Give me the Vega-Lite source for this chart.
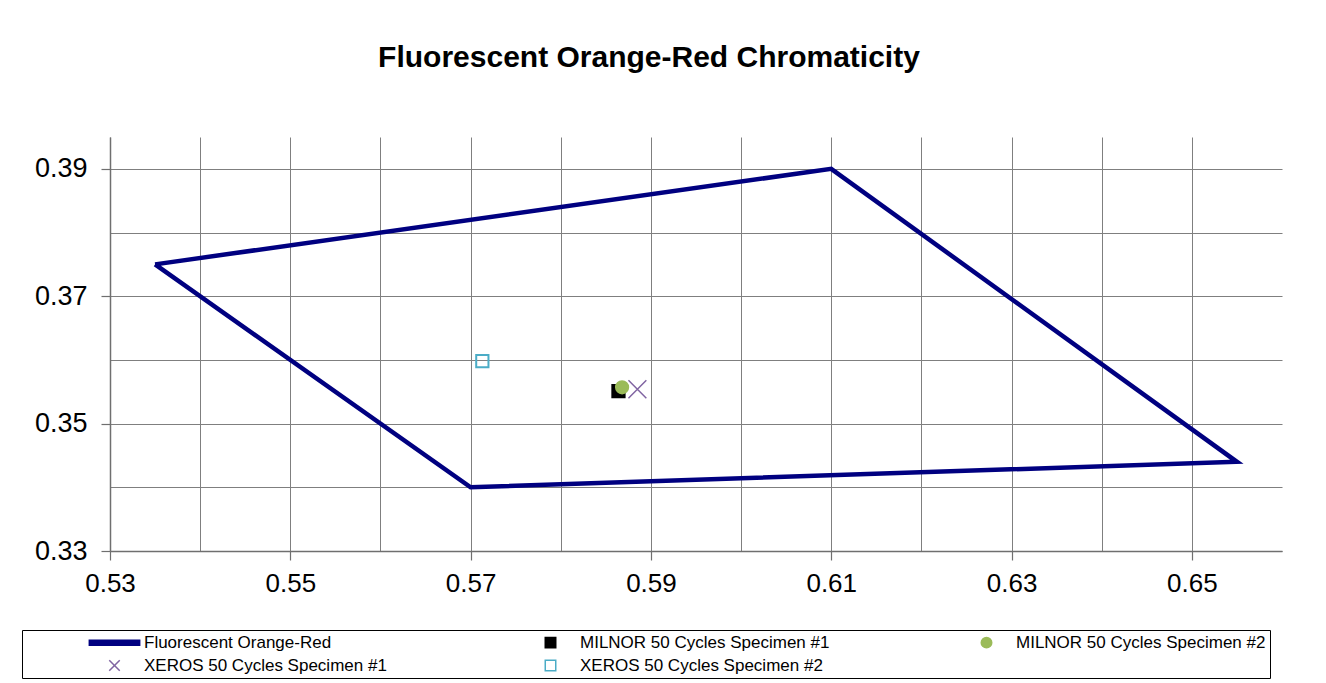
{
  "$schema": "https://vega.github.io/schema/vega-lite/v6.json",
  "autosize": {"type": "none"},
  "width": 1172,
  "height": 414,
  "padding": {"left": 110, "top": 137, "right": 44, "bottom": 132},
  "background": "white",
  "config": {
    "view": {"stroke": null},
    "font": "Liberation Sans"
  },
  "title": {
    "text": "Fluorescent Orange-Red Chromaticity",
    "font": "Liberation Sans",
    "fontSize": 30,
    "fontWeight": "bold",
    "color": "#000000",
    "anchor": "middle",
    "dx": -47,
    "offset": 64
  },
  "datasets": {
    "boundary": [
      {"x": 0.535, "y": 0.375, "order": 1, "series": "Fluorescent Orange-Red"},
      {"x": 0.61, "y": 0.39, "order": 2, "series": "Fluorescent Orange-Red"},
      {"x": 0.655, "y": 0.344, "order": 3, "series": "Fluorescent Orange-Red"},
      {"x": 0.57, "y": 0.34, "order": 4, "series": "Fluorescent Orange-Red"},
      {"x": 0.535, "y": 0.375, "order": 5, "series": "Fluorescent Orange-Red"}
    ],
    "specimens": [
      {"x": 0.5864, "y": 0.3551, "series": "MILNOR 50 Cycles Specimen #1"},
      {"x": 0.5868, "y": 0.3557, "series": "MILNOR 50 Cycles Specimen #2"},
      {"x": 0.5713, "y": 0.3598, "series": "XEROS 50 Cycles Specimen #2"}
    ],
    "crosses": [
      {"x": 0.5885, "y": 0.3554, "series": "XEROS 50 Cycles Specimen #1"}
    ]
  },
  "layer": [
    {
      "data": {"name": "boundary"},
      "mark": {"type": "line", "strokeWidth": 4.5},
      "encoding": {
        "x": {
          "field": "x", "type": "quantitative",
          "scale": {"domain": [0.53, 0.66], "nice": false, "zero": false},
          "axis": {
            "title": null,
            "values": [0.53, 0.54, 0.55, 0.56, 0.57, 0.58, 0.59, 0.6, 0.61, 0.62, 0.63, 0.64, 0.65],
            "labelExpr": "round(datum.value*100) % 2 == 1 ? format(datum.value, '.2f') : ''",
            "tickOpacity": {"condition": {"test": "round(datum.value*100) % 2 == 0", "value": 0}, "value": 1},
            "grid": true,
            "gridColor": "#7f7f7f",
            "gridWidth": 1,
            "domainColor": "#6f6f6f",
            "domainWidth": 1.5,
            "tickColor": "#6f6f6f",
            "tickSize": 9,
            "tickWidth": 1.2,
            "labelFont": "Liberation Sans",
            "labelFontSize": 26,
            "labelColor": "#000000",
            "labelPadding": 10,
            "labelFlush": false,
            "labelOverlap": false
          }
        },
        "y": {
          "field": "y", "type": "quantitative",
          "scale": {"domain": [0.33, 0.395], "nice": false, "zero": false},
          "axis": {
            "title": null,
            "values": [0.33, 0.34, 0.35, 0.36, 0.37, 0.38, 0.39],
            "labelExpr": "round(datum.value*100) % 2 == 1 ? format(datum.value, '.2f') : ''",
            "tickOpacity": {"condition": {"test": "round(datum.value*100) % 2 == 0", "value": 0}, "value": 1},
            "grid": true,
            "gridColor": "#7f7f7f",
            "gridWidth": 1,
            "domainColor": "#6f6f6f",
            "domainWidth": 1.5,
            "tickColor": "#6f6f6f",
            "tickSize": 9,
            "tickWidth": 1.2,
            "labelFont": "Liberation Sans",
            "labelFontSize": 27,
            "labelColor": "#000000",
            "labelPadding": 14,
            "labelFlush": false,
            "labelOverlap": false
          }
        },
        "order": {"field": "order", "type": "quantitative"},
        "stroke": {
          "field": "series", "type": "nominal",
          "scale": {
            "domain": ["Fluorescent Orange-Red", "MILNOR 50 Cycles Specimen #1", "MILNOR 50 Cycles Specimen #2", "XEROS 50 Cycles Specimen #1", "XEROS 50 Cycles Specimen #2"],
            "range": ["#000080", "#000000", "#9BBB59", "#8064A2", "#4BACC6"]
          },
          "legend": {
            "values": ["Fluorescent Orange-Red", "XEROS 50 Cycles Specimen #1", "MILNOR 50 Cycles Specimen #1", "XEROS 50 Cycles Specimen #2", "MILNOR 50 Cycles Specimen #2"],
            "title": " ",
            "titleOrient": "left",
            "titlePadding": 80,
            "orient": "none",
            "legendX": -88,
            "legendY": 493,
            "columns": 3,
            "gridAlign": "all",
            "columnPadding": 148,
            "rowPadding": 5,
            "padding": 4,
            "strokeColor": "#000000",
            "symbolSize": 110,
            "symbolStrokeWidth": 1.5,
            "labelOffset": 21,
            "labelFont": "Liberation Sans",
            "labelFontSize": 17,
            "labelColor": "#000000",
            "labelLimit": 400
          }
        }
      }
    },
    {
      "data": {"name": "specimens"},
      "mark": {"type": "point", "filled": false, "size": 150, "strokeWidth": 2, "opacity": 1},
      "encoding": {
        "x": {"field": "x", "type": "quantitative"},
        "y": {"field": "y", "type": "quantitative"},
        "stroke": {"field": "series", "type": "nominal"},
        "fill": {
          "field": "series", "type": "nominal",
          "scale": {
            "domain": ["Fluorescent Orange-Red", "MILNOR 50 Cycles Specimen #1", "MILNOR 50 Cycles Specimen #2", "XEROS 50 Cycles Specimen #1", "XEROS 50 Cycles Specimen #2"],
            "range": ["#000080", "#000000", "#9BBB59", "transparent", "transparent"]
          }
        },
        "shape": {
          "field": "series", "type": "nominal",
          "scale": {
            "domain": ["Fluorescent Orange-Red", "MILNOR 50 Cycles Specimen #1", "MILNOR 50 Cycles Specimen #2", "XEROS 50 Cycles Specimen #1", "XEROS 50 Cycles Specimen #2"],
            "range": ["M-4.8,-0.48L4.8,-0.48L4.8,0.48L-4.8,0.48Z", "square", "circle", "M-1,-1L1,1M-1,1L1,-1", "square"]
          }
        }
      }
    },
    {
      "data": {"name": "crosses"},
      "mark": {"type": "point", "filled": false, "size": 320, "strokeWidth": 1.5, "opacity": 1},
      "encoding": {
        "x": {"field": "x", "type": "quantitative"},
        "y": {"field": "y", "type": "quantitative"},
        "stroke": {"field": "series", "type": "nominal"},
        "fill": {"field": "series", "type": "nominal"},
        "shape": {"field": "series", "type": "nominal"}
      }
    }
  ]
}
